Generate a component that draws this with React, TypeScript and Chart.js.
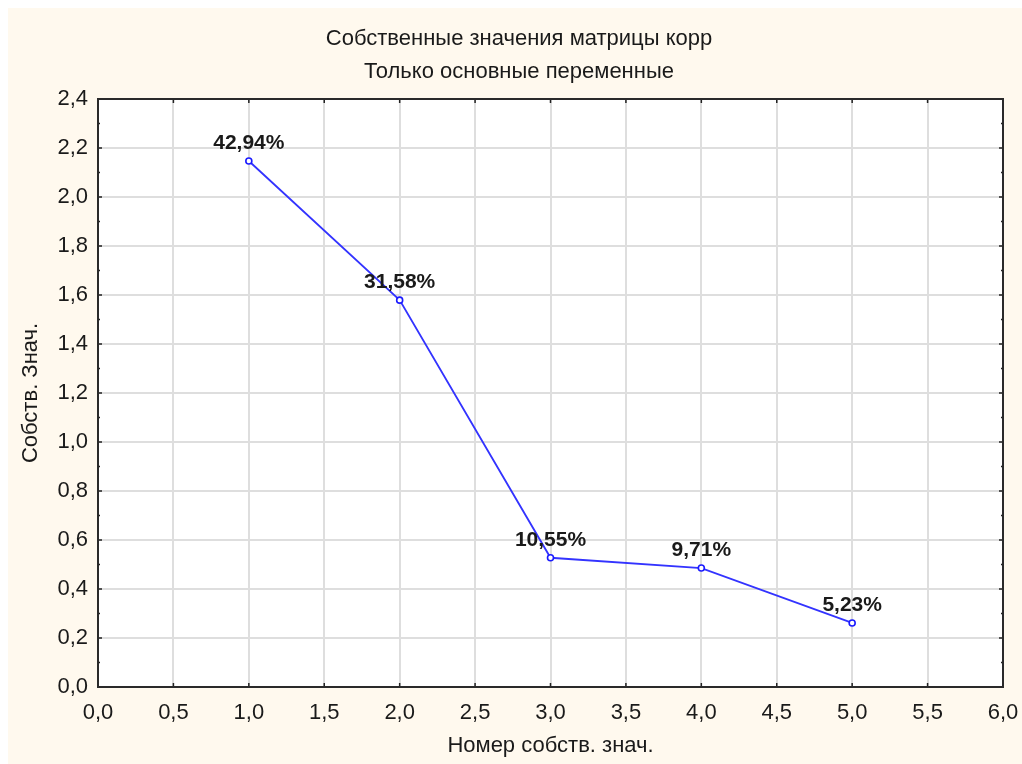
import React, { useEffect, useRef } from "react";
import { Chart, registerables } from "chart.js";

Chart.register(...registerables);

const titleLines = ["Собственные значения матрицы корр", "Только основные переменные"];
const xTitle = "Номер собств. знач.";
const yTitle = "Собств. Знач.";
const eigenNumbers = [1, 2, 3, 4, 5];
const eigenValues = [2.147, 1.579, 0.5275, 0.4855, 0.2615];
const percentLabels = ["42,94%", "31,58%", "10,55%", "9,71%", "5,23%"];
const xMin = 0, xMax = 6, xStep = 0.5;
const yMin = 0, yMax = 2.4, yStep = 0.2;

const FONT = "'Liberation Sans', Arial, sans-serif";
const W = 1014, H = 756;
const fmt = (v: number) => Number(v).toFixed(1).replace(".", ",");

const framePlugin = {
  id: "frame",
  beforeDraw(chart: any) {
    const { ctx, chartArea: a, width, height } = chart;
    ctx.save();
    ctx.fillStyle = "#fff9ee";
    ctx.fillRect(0, 0, width, height);
    ctx.fillStyle = "#ffffff";
    ctx.fillRect(a.left, a.top, a.right - a.left, a.bottom - a.top);
    ctx.restore();
  },
  afterDatasetsDraw(chart: any) {
    const { ctx, chartArea: a, scales } = chart;
    const xs = scales.x, ys = scales.y;
    ctx.save();
    ctx.strokeStyle = "#222";
    ctx.lineWidth = 1.5;
    ctx.beginPath();
    for (let v = xMin; v <= xMax + 1e-9; v += xStep) {
      const px = xs.getPixelForValue(v);
      ctx.moveTo(px, a.bottom); ctx.lineTo(px, a.bottom - 4);
      ctx.moveTo(px, a.top); ctx.lineTo(px, a.top + 4);
    }
    for (let i = 0; i <= Math.round((yMax - yMin) / 0.1); i++) {
      const v = yMin + i * 0.1;
      const py = ys.getPixelForValue(v);
      const len = i % 2 === 0 ? 4 : 2;
      ctx.moveTo(a.left, py); ctx.lineTo(a.left + len, py);
      ctx.moveTo(a.right, py); ctx.lineTo(a.right - len, py);
    }
    ctx.stroke();
    ctx.strokeStyle = "#2a2a2a";
    ctx.lineWidth = 2;
    ctx.strokeRect(a.left, a.top, a.right - a.left, a.bottom - a.top);
    ctx.restore();
  },
  afterDraw(chart: any) {
    const { ctx } = chart;
    const meta = chart.getDatasetMeta(0);
    ctx.save();
    ctx.font = `bold 21px ${FONT}`;
    ctx.fillStyle = "#1a1a1a";
    ctx.textAlign = "center";
    ctx.textBaseline = "alphabetic";
    meta.data.forEach((pt: any, i: number) => {
      ctx.fillText(percentLabels[i], pt.x, pt.y - 12);
    });
    ctx.font = `22px ${FONT}`;
    ctx.textBaseline = "middle";
    titleLines.forEach((t, i) => {
      ctx.fillText(t, 511, 31 + i * 33);
    });
    ctx.restore();
  },
};

export default function App() {
  const ref = useRef<HTMLCanvasElement | null>(null);
  useEffect(() => {
    document.documentElement.style.overflow = "hidden";
    const canvas = ref.current;
    if (!canvas) return;
    const chart = new Chart(canvas, {
      type: "line",
      data: {
        datasets: [
          {
            data: eigenNumbers.map((x, i) => ({ x, y: eigenValues[i] })),
            borderColor: "#3333ff",
            borderWidth: 1.8,
            pointRadius: 3,
            pointBorderWidth: 1.6,
            pointBackgroundColor: "#ffffff",
            pointBorderColor: "#1a1aff",
            tension: 0,
          },
        ],
      },
      options: {
        animation: false,
        responsive: false,
        devicePixelRatio: 1,
        layout: { padding: { left: 0, right: 19, top: 91, bottom: 0 } },
        plugins: {
          legend: { display: false },
          tooltip: { enabled: false },
          title: { display: false },
        },
        scales: {
          x: {
            type: "linear",
            min: xMin,
            max: xMax,
            ticks: {
              stepSize: xStep,
              callback: (v: any) => fmt(v),
              color: "#1a1a1a",
              font: { family: FONT, size: 22 },
              padding: 13,
              maxRotation: 0,
            },
            grid: { color: "#dedede", lineWidth: 2, drawTicks: false },
            border: { display: false },
            title: {
              display: true,
              text: xTitle,
              color: "#1a1a1a",
              font: { family: FONT, size: 22 },
              padding: { top: 0, bottom: 5 },
            },
            afterFit: (s: any) => { s.height = 77; s.paddingRight = 0; s.paddingLeft = 0; },
          },
          y: {
            type: "linear",
            min: yMin,
            max: yMax,
            ticks: {
              stepSize: yStep,
              callback: (v: any) => fmt(v),
              color: "#1a1a1a",
              font: { family: FONT, size: 22 },
              padding: 10,
            },
            grid: { color: "#dedede", lineWidth: 2, drawTicks: false },
            border: { display: false },
            title: {
              display: true,
              text: yTitle,
              color: "#1a1a1a",
              font: { family: FONT, size: 22 },
              padding: { top: 10, bottom: 0 },
            },
            afterFit: (s: any) => { s.width = 90; s.paddingTop = 0; s.paddingBottom = 0; },
          },
        },
      },
      plugins: [framePlugin],
    } as any);
    return () => chart.destroy();
  }, []);
  return (
    <div style={{ position: "fixed", left: 8, top: 8, width: W, height: H }}>
      <canvas ref={ref} width={W} height={H} style={{ display: "block", width: W, height: H }} />
    </div>
  );
}
